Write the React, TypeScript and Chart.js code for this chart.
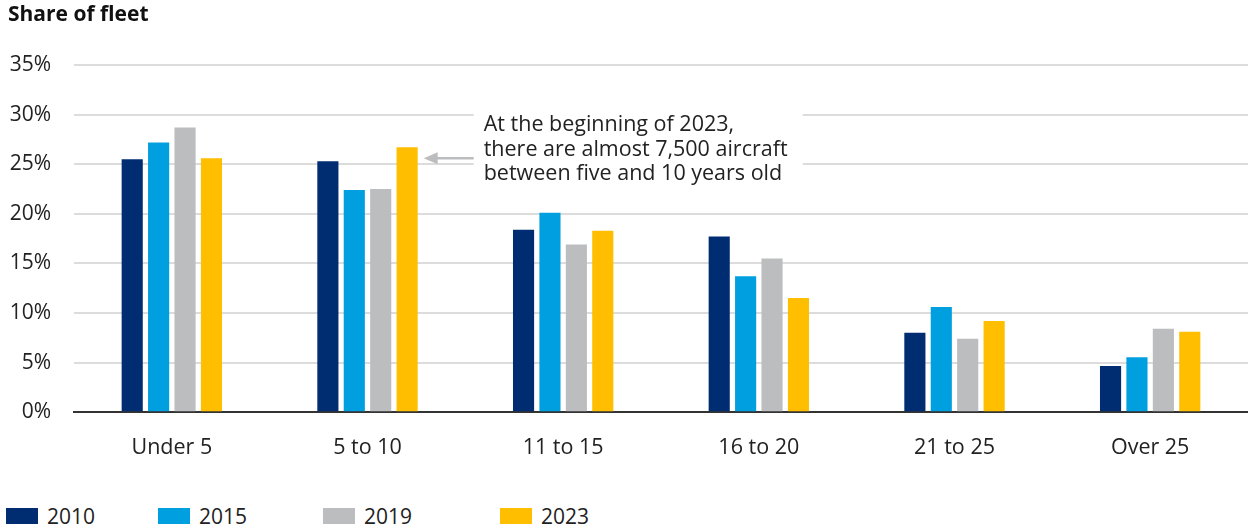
import React, { useEffect, useRef } from "react";
import { Chart, registerables } from "chart.js";

Chart.register(...registerables);

const categories = ["Under 5", "5 to 10", "11 to 15", "16 to 20", "21 to 25", "Over 25"];
const seriesLabels = ["2010", "2015", "2019", "2023"];
const values2010 = [25.5, 25.3, 18.4, 17.7, 8.0, 4.65];
const values2015 = [27.2, 22.4, 20.1, 13.7, 10.6, 5.55];
const values2019 = [28.7, 22.5, 16.9, 15.5, 7.4, 8.4];
const values2023 = [25.6, 26.7, 18.3, 11.5, 9.2, 8.1];
const colors = ["#002d72", "#009fe0", "#bcbdbf", "#ffbe00"];
const yTicks = [0, 5, 10, 15, 20, 25, 30, 35];
const annotationLines = [
  "At the beginning of 2023,",
  "there are almost 7,500 aircraft",
  "between five and 10 years old",
];
const annotationValue = 25.6;

const FONT = "'Open Sans', 'Noto Sans', sans-serif";

const annotationPlugin = {
  id: "annotationArrow",
  afterDatasetsDraw(chart: any) {
    const meta = chart.getDatasetMeta(3);
    const bar = meta.data[1];
    if (!bar) return;
    const ctx = chart.ctx;
    const yScale = chart.scales.y;
    const barRight = bar.x + bar.width / 2;
    const arrowY = yScale.getPixelForValue(annotationValue);
    const tipX = barRight + 6;
    const tailX = barRight + 56;
    ctx.save();
    ctx.fillStyle = "#ffffff";
    ctx.fillRect(barRight + 56, arrowY - 52, 329, 80);
    ctx.fillStyle = "#222222";
    ctx.font = `21.5px ${FONT}`;
    ctx.textBaseline = "middle";
    ctx.textAlign = "left";
    annotationLines.forEach((line, i) => {
      ctx.fillText(line, barRight + 66, arrowY - 33 + i * 24.5);
    });
    ctx.strokeStyle = "#bcbdbf";
    ctx.fillStyle = "#bcbdbf";
    ctx.lineWidth = 2.5;
    ctx.beginPath();
    ctx.moveTo(tailX, arrowY);
    ctx.lineTo(tipX + 10, arrowY);
    ctx.stroke();
    ctx.beginPath();
    ctx.moveTo(tipX, arrowY);
    ctx.lineTo(tipX + 14, arrowY - 6);
    ctx.lineTo(tipX + 14, arrowY + 6);
    ctx.closePath();
    ctx.fill();
    ctx.restore();
  },
};

export default function App() {
  const canvasRef = useRef<HTMLCanvasElement | null>(null);

  useEffect(() => {
    if (!canvasRef.current) return;
    const allValues = [values2010, values2015, values2019, values2023];
    const chart = new Chart(canvasRef.current, {
      type: "bar",
      data: {
        labels: categories,
        datasets: seriesLabels.map((label, i) => ({
          label,
          data: allValues[i],
          backgroundColor: colors[i],
          borderWidth: 0,
          categoryPercentage: 0.54,
          barPercentage: 0.8,
        })),
      },
      options: {
        animation: false,
        responsive: false,
        maintainAspectRatio: false,
        devicePixelRatio: 1,
        layout: { padding: { left: 8, right: 0, top: 0, bottom: 14 } },
        plugins: {
          legend: { display: false },
          tooltip: { enabled: false },
          title: {
            display: true,
            text: "Share of fleet",
            align: "start",
            color: "#111111",
            font: { family: FONT, size: 21, weight: "bold", lineHeight: 1.2 },
            padding: { top: 2, bottom: 37.8 },
          },
        },
        scales: {
          x: {
            grid: { display: false, drawTicks: false },
            border: { display: true, color: "#333333", width: 2 },
            ticks: {
              color: "#222222",
              padding: 23,
              font: { family: FONT, size: 21.5 },
              maxRotation: 0,
            },
          },
          y: {
            min: 0,
            max: 35,
            afterBuildTicks: (scale: any) => {
              scale.ticks = yTicks.map((v) => ({ value: v }));
            },
            afterFit: (scale: any) => {
              scale.width = 66;
            },
            grid: { color: "#dcdcdc", lineWidth: 2, drawTicks: false },
            border: { display: false },
            ticks: {
              color: "#222222",
              padding: 23,
              font: { family: FONT, size: 21 },
              callback: (v: any) => `${v}%`,
            },
          },
        },
      },
      plugins: [annotationPlugin],
    });
    return () => chart.destroy();
  }, []);

  const legendLefts = [6, 158, 323, 500];

  return (
    <div style={{ position: "absolute", left: 0, top: 0, width: 1248, height: 529, background: "#fff", overflow: "hidden" }}>
      <canvas ref={canvasRef} width={1248} height={498} style={{ display: "block", width: 1248, height: 498 }} />
      {seriesLabels.map((label, i) => (
        <div
          key={label}
          style={{
            position: "absolute",
            left: legendLefts[i],
            top: 503,
            display: "flex",
            alignItems: "center",
            fontFamily: FONT,
            fontSize: 21,
            color: "#222222",
            height: 26,
          }}
        >
          <span style={{ display: "inline-block", width: 32, height: 16, background: colors[i], marginRight: 9 }} />
          <span>{label}</span>
        </div>
      ))}
    </div>
  );
}
